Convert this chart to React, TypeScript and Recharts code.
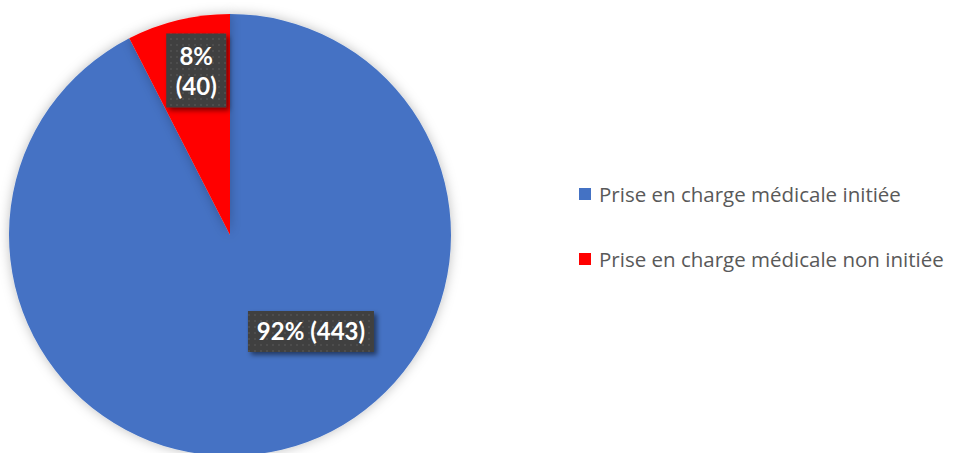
import { PieChart, Pie, Cell, Legend } from "recharts";

const categories = [
  "Prise en charge médicale initiée",
  "Prise en charge médicale non initiée",
];
// slice sizes as measured on the picture (%), and the counts printed in the labels
const shares = [92.47, 7.53];
const counts = [443, 40];
const colors = ["#4472C4", "#FF0000"];

const data = categories.map((name, i) => ({
  name,
  value: shares[i],
  count: counts[i],
}));

// where Excel's "best fit" put each label: angle (deg) and fraction of radius
const labelSpots = [
  { angle: -50, r: 0.57, lines: false },
  { angle: 101.6, r: 0.76, lines: true },
];

const FONT = "Lato, 'Open Sans', sans-serif";
const RAD = Math.PI / 180;

function renderLabel(props: any) {
  const { cx, cy, outerRadius, percent, index, payload } = props;
  const spot = labelSpots[index];
  const x = cx + outerRadius * spot.r * Math.cos(spot.angle * RAD);
  const y = cy - outerRadius * spot.r * Math.sin(spot.angle * RAD);
  const pct = `${Math.round(percent * 100)}%`;
  const cnt = `(${payload?.count ?? counts[index]})`;
  const w = spot.lines ? 60 : 126;
  const h = spot.lines ? 74 : 41;
  return (
    <g>
      <rect
        x={x - w / 2}
        y={y - h / 2}
        width={w}
        height={h}
        fill="url(#dots)"
        filter="url(#boxShadow)"
      />
      {spot.lines ? (
        <text
          x={x}
          y={y}
          textAnchor="middle"
          fill="#fff"
          fontFamily={FONT}
          fontWeight={700}
          fontSize={24}
        >
          <tspan x={x} dy={-5}>
            {pct}
          </tspan>
          <tspan x={x} dy={30}>
            {cnt}
          </tspan>
        </text>
      ) : (
        <text
          x={x}
          y={y + 9}
          textAnchor="middle"
          fill="#fff"
          fontFamily={FONT}
          fontWeight={700}
          fontSize={24}
        >
          {`${pct} ${cnt}`}
        </text>
      )}
    </g>
  );
}

function renderLegend() {
  return (
    <div style={{ fontFamily: "'Open Sans', sans-serif" }}>
      {categories.map((c, i) => (
        <div
          key={c}
          style={{
            display: "flex",
            alignItems: "center",
            height: 26,
            marginBottom: 39,
            fontSize: 20.5,
            color: "#595959",
          }}
        >
          <span
            style={{
              display: "inline-block",
              width: 12,
              height: 12,
              background: colors[i],
              marginRight: 8,
            }}
          />
          {c}
        </div>
      ))}
    </div>
  );
}

export default function App() {
  return (
    <div style={{ position: "fixed", left: 0, top: 0, background: "#fff" }}>
      <PieChart width={953} height={453}>
        <defs>
          <pattern id="dots" width="6" height="6" patternUnits="userSpaceOnUse">
            <rect width="6" height="6" fill="#404040" />
            <rect x="2" y="2" width="2" height="2" fill="#4d4d4d" />
          </pattern>
          <filter id="boxShadow" x="-20%" y="-20%" width="150%" height="160%">
            <feDropShadow dx="3" dy="3" stdDeviation="2.5" floodColor="#000" floodOpacity="0.5" />
          </filter>
          <filter id="pieShadow" x="-10%" y="-10%" width="120%" height="120%">
            <feDropShadow dx="0" dy="0" stdDeviation="6" floodColor="#000" floodOpacity="0.25" />
          </filter>
        </defs>
        <Pie
          data={data}
          dataKey="value"
          nameKey="name"
          cx={225}
          cy={230}
          outerRadius={221}
          startAngle={90}
          endAngle={-270}
          stroke="none"
          labelLine={false}
          label={renderLabel}
          isAnimationActive={false}
          style={{ filter: "url(#pieShadow)" }}
        >
          {data.map((d, i) => (
            <Cell key={d.name} fill={colors[i]} />
          ))}
        </Pie>
        <Legend
          content={renderLegend}
          wrapperStyle={{ left: 579, top: 181, width: 370 }}
        />
      </PieChart>
    </div>
  );
}
